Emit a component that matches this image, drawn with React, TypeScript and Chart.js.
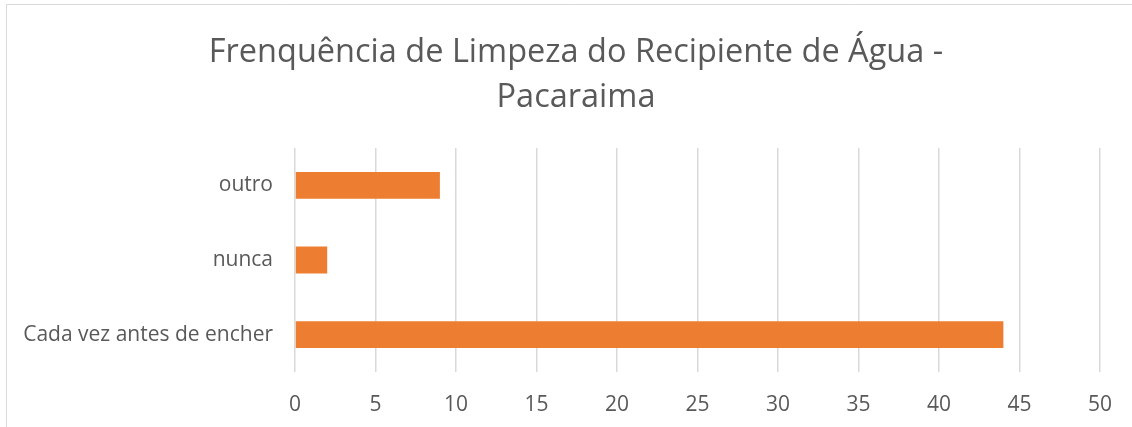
import React, { useEffect, useRef } from "react";
import { Chart, registerables } from "chart.js";

Chart.register(...registerables);

const categories = ["outro", "nunca", "Cada vez antes de encher"];
const values = [9, 2, 44];
const titleLines = ["Frenquência de Limpeza do Recipiente de Água -", "Pacaraima"];
const xMin = 0;
const xMax = 50;
const xStep = 5;

const FONT = "'Open Sans', sans-serif";
const TEXT = "#595959";
const GRID = "#d9d9d9";
const BAR = "#ED7D31";

export default function App() {
  const ref = useRef<HTMLCanvasElement | null>(null);
  useEffect(() => {
    if (!ref.current) return;
    const frame = {
      id: "frame",
      beforeDraw(chart: any) {
        const ctx = chart.ctx;
        ctx.save();
        ctx.fillStyle = "#ffffff";
        ctx.fillRect(0, 0, chart.width, chart.height);
        ctx.strokeStyle = GRID;
        ctx.lineWidth = 1;
        ctx.beginPath();
        ctx.moveTo(6.5, chart.height);
        ctx.lineTo(6.5, 4.5);
        ctx.lineTo(chart.width, 4.5);
        ctx.stroke();
        ctx.restore();
      },
      afterDraw(chart: any) {
        const ctx = chart.ctx;
        ctx.save();
        ctx.fillStyle = TEXT;
        ctx.font = `32.5px ${FONT}`;
        ctx.textAlign = "center";
        ctx.textBaseline = "middle";
        const cx = 576;
        titleLines.forEach((line, i) => {
          ctx.fillText(line, cx, 53 + i * 45);
        });
        ctx.restore();
      },
    };
    const chart = new Chart(ref.current, {
      type: "bar",
      data: {
        labels: categories,
        datasets: [
          {
            data: values,
            backgroundColor: BAR,
            barPercentage: 0.36,
            categoryPercentage: 1,
          },
        ],
      },
      plugins: [frame],
      options: {
        indexAxis: "y",
        responsive: false,
        animation: false,
        layout: { padding: { left: 20, right: 32, top: 148, bottom: 0 } },
        plugins: {
          legend: { display: false },
          tooltip: { enabled: false },
          title: { display: false },
        },
        scales: {
          x: {
            min: xMin,
            max: xMax,
            ticks: {
              stepSize: xStep,
              color: TEXT,
              font: { family: FONT, size: 21 },
              padding: 20,
            },
            grid: { color: GRID, lineWidth: 1.5, drawTicks: false },
            border: { display: false },
            afterFit(scale: any) {
              scale.height = 55;
            },
          },
          y: {
            ticks: {
              color: TEXT,
              font: { family: FONT, size: 21 },
              padding: 22,
            },
            grid: { display: false, drawTicks: false },
            border: { display: false },
            afterFit(scale: any) {
              scale.width = 275;
            },
          },
        },
      },
    } as any);
    return () => chart.destroy();
  }, []);
  return (
    <div style={{ position: "fixed", left: 0, top: 0, width: 1132, height: 427 }}>
      <canvas ref={ref} width={1132} height={427} />
    </div>
  );
}
